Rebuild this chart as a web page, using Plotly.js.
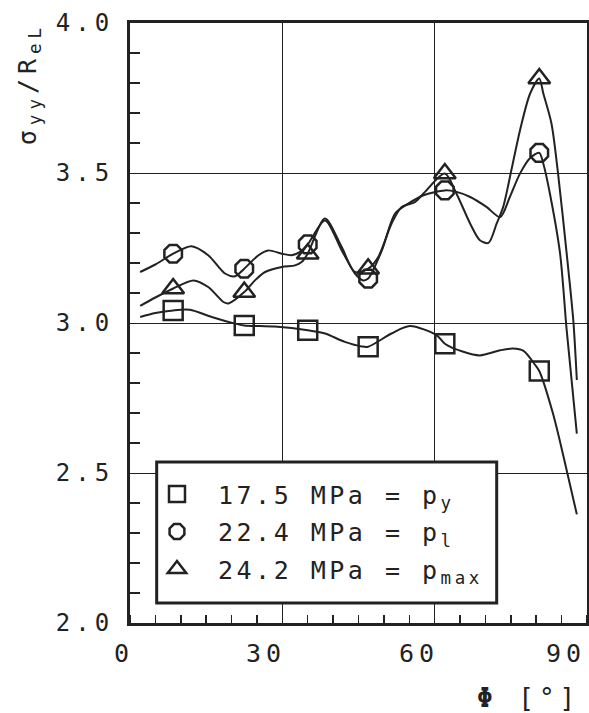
<!DOCTYPE html>
<html><head><meta charset="utf-8">
<script src="https://cdn.plot.ly/plotly-3.0.1.min.js"></script>
<style>
html,body{margin:0;padding:0;background:#fff;}
#chart{width:589px;height:713px;}
.ytick text{letter-spacing:5px;}
.legendtext{letter-spacing:3.5px;}
.annotation-text{letter-spacing:5px;}
</style></head><body><div id="chart"></div>
<script>
// marker positions (Phi in degrees) and sigma_yy/R_eL values
const markerPhi = [8.5, 22.5, 35.0, 46.9, 62.0, 80.6];
const sigmaPy   = [3.042, 2.992, 2.976, 2.921, 2.931, 2.840];
const sigmaPl   = [3.231, 3.181, 3.262, 3.148, 3.442, 3.567];
const sigmaPmax = [3.115, 3.103, 3.231, 3.181, 3.498, 3.815];

// fitted curves
const curvePhiPy   = [2.0, 5.0, 8.5, 11.8, 16.1, 20.7, 22.5, 28.5, 35.0, 38.4, 42.3, 45.6, 46.9, 51.5, 55.1, 60.4, 62.0, 65.5, 68.9, 72.9, 75.4, 77.5, 79.8, 80.6, 83.3, 85.7, 88.0];
const curveSigPy   = [3.020, 3.033, 3.042, 3.044, 3.020, 2.998, 2.992, 2.988, 2.976, 2.965, 2.937, 2.922, 2.921, 2.965, 2.990, 2.959, 2.931, 2.905, 2.892, 2.909, 2.915, 2.907, 2.860, 2.840, 2.698, 2.531, 2.362];

const curvePhiPl   = [2.0, 5.0, 8.5, 12.1, 15.4, 18.7, 20.7, 22.5, 25.3, 27.2, 29.9, 31.8, 33.5, 35.0, 38.4, 41.7, 44.3, 45.9, 46.9, 49.6, 52.2, 54.8, 57.8, 62.0, 64.3, 67.0, 70.2, 72.9, 74.8, 76.8, 78.8, 80.6, 81.4, 82.7, 84.7, 86.0, 88.0];
const curveSigPl   = [3.170, 3.195, 3.231, 3.256, 3.226, 3.165, 3.156, 3.181, 3.226, 3.242, 3.231, 3.226, 3.237, 3.262, 3.342, 3.242, 3.165, 3.142, 3.148, 3.242, 3.365, 3.398, 3.426, 3.442, 3.437, 3.420, 3.387, 3.353, 3.420, 3.498, 3.550, 3.567, 3.531, 3.431, 3.231, 2.976, 2.631];

const curvePhiPmax = [2.0, 5.0, 8.5, 12.5, 15.4, 18.4, 19.4, 22.5, 24.6, 26.6, 29.9, 32.5, 33.8, 35.0, 38.4, 41.7, 44.3, 46.9, 48.9, 51.5, 53.5, 56.1, 58.1, 62.0, 64.3, 67.0, 68.9, 70.6, 72.2, 73.5, 75.1, 76.8, 78.8, 80.6, 81.4, 83.0, 84.3, 86.0, 87.3, 88.0];
const curveSigPmax = [3.057, 3.085, 3.115, 3.142, 3.120, 3.070, 3.065, 3.103, 3.142, 3.170, 3.187, 3.192, 3.203, 3.231, 3.348, 3.253, 3.170, 3.181, 3.220, 3.331, 3.387, 3.403, 3.437, 3.498, 3.431, 3.331, 3.276, 3.267, 3.331, 3.387, 3.509, 3.642, 3.765, 3.815, 3.765, 3.665, 3.498, 3.231, 3.009, 2.810];

const seriesNames = ['17.5 MPa = p<sub>y</sub>', '22.4 MPa = p<sub>l</sub>', '24.2 MPa = p<sub>max</sub>'];
const xTickVals = [0, 30, 60, 90];
const xTickText = ['0', '30', '60', '90'];

const INK = '#222';
const FONT = 'DejaVu Sans Mono';

function curve(x, y) {
  return {x: x, y: y, type: 'scatter', mode: 'lines', showlegend: false, hoverinfo: 'skip',
          line: {color: INK, width: 2, shape: 'spline', smoothing: 0.8}};
}
function marks(y, name, symbol, group) {
  return {x: markerPhi, y: y, type: 'scatter', mode: 'markers', name: name, legendgroup: group,
          marker: {symbol: symbol, size: 19, color: INK, line: {color: INK, width: 2.5}}};
}

const data = [
  curve(curvePhiPy, curveSigPy),
  curve(curvePhiPl, curveSigPl),
  curve(curvePhiPmax, curveSigPmax),
  marks(sigmaPy, seriesNames[0], 'square-open', 'g1'),
  marks(sigmaPl, seriesNames[1], 'octagon-open', 'g2'),
  marks(sigmaPmax, seriesNames[2], 'triangle-up-open', 'g3')
];

const lastTick = xTickVals.length - 1;
const annotations = xTickVals.map((v, i) => ({
  x: v, y: 0, xref: 'x', yref: 'paper', text: xTickText[i], showarrow: false,
  xanchor: 'right', yanchor: 'top', yshift: -14, xshift: i === lastTick ? 1 : 6,
  font: {family: FONT, size: 25, color: INK}
}));
annotations.push({
  x: -0.221, y: 0.898, xref: 'paper', yref: 'paper', showarrow: false,
  text: 'σ<sub>yy</sub>/R<sub>eL</sub>', textangle: -90, xanchor: 'center', yanchor: 'middle',
  font: {family: FONT, size: 25, color: INK}
});
annotations.push({
  x: 0.99, y: -0.153, xref: 'paper', yref: 'paper', showarrow: false,
  text: '<b>Φ</b> [°]', xanchor: 'right', yanchor: 'bottom',
  font: {family: FONT, size: 26, color: INK}
});

const layout = {
  width: 589, height: 713,
  margin: {l: 130, r: 2, t: 23, b: 90},
  paper_bgcolor: '#fff', plot_bgcolor: '#fff',
  font: {family: FONT, size: 25, color: INK},
  showlegend: true,
  legend: {x: 0.0131, y: 0.2529, xanchor: 'left', yanchor: 'top', bgcolor: 'rgba(0,0,0,0)',
           borderwidth: 0, itemwidth: 72, traceorder: 'grouped', tracegroupgap: 2,
           font: {family: FONT, size: 25, color: INK}},
  shapes: [{type: 'rect', xref: 'paper', yref: 'paper', x0: 0.0584, x1: 0.8024, y0: 0.0333, y1: 0.2684,
            line: {color: INK, width: 3}, fillcolor: '#fff', layer: 'above'}],
  xaxis: {range: [0, 90], tickvals: xTickVals, showticklabels: false, ticks: '',
          showgrid: true, gridcolor: INK, gridwidth: 1, zeroline: false,
          showline: true, mirror: true, linecolor: INK, linewidth: 3,
          minor: {dtick: 5, tick0: 0, ticks: 'inside', ticklen: 8, tickwidth: 1.5, tickcolor: INK, showgrid: false}},
  yaxis: {range: [2, 4], dtick: 0.5, tick0: 2, tickformat: '.1f', ticks: '',
          tickfont: {family: FONT, size: 24, color: INK}, ticklabelstandoff: 8,
          showgrid: true, gridcolor: INK, gridwidth: 1, zeroline: false,
          showline: true, mirror: true, linecolor: INK, linewidth: 3,
          minor: {dtick: 0.1, tick0: 2, ticks: 'inside', ticklen: 10, tickwidth: 1.5, tickcolor: INK, showgrid: false}},
  annotations: annotations
};

Plotly.newPlot('chart', data, layout, {displayModeBar: false, staticPlot: true});
</script></body></html>
